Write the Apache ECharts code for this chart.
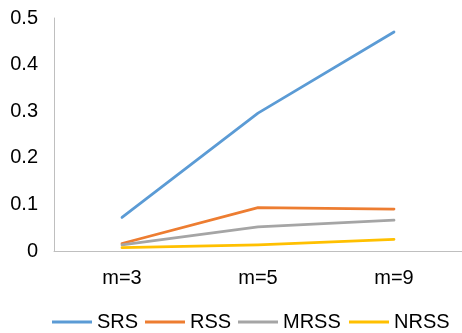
<!DOCTYPE html>
<html>
<head>
<meta charset="utf-8">
<script src="https://cdn.jsdelivr.net/npm/echarts@6/dist/echarts.min.js"></script>
<style>
html, body { margin: 0; padding: 0; background: #fff; }
#chart { width: 462px; height: 333px; }
</style>
</head>
<body>
<div id="chart"></div>
<script>
// Sample sizes compared
const categories = ['m=3', 'm=5', 'm=9'];
// Values per sampling scheme
const srs  = [0.072, 0.296, 0.470];
const rss  = [0.016, 0.093, 0.090];
const mrss = [0.013, 0.052, 0.066];
const nrss = [0.007, 0.013, 0.025];
// Y-axis range and tick step
const yMin = 0, yMax = 0.5, yStep = 0.1;

const FONT = '"Liberation Sans Narrow", "Liberation Sans", Arial, sans-serif';
const colors = ['#5B9BD5', '#ED7D31', '#A5A5A5', '#FFC000'];
const names = ['SRS', 'RSS', 'MRSS', 'NRSS'];
const seriesData = [srs, rss, mrss, nrss];
const legendLeft = [52, 145, 238, 349];

const chart = echarts.init(document.getElementById('chart'), null, { renderer: 'canvas' });
chart.setOption({
  animation: false,
  color: colors,
  grid: { left: 54, right: 0, top: 18, bottom: 82, containLabel: false },
  legend: names.map((n, i) => ({
    data: [n],
    left: legendLeft[i],
    top: 312,
    icon: 'rect',
    itemWidth: 40,
    itemHeight: 3,
    itemGap: 4,
    padding: 0,
    textStyle: { fontFamily: FONT, fontSize: 20, color: '#000', padding: [0, 0, 0, 0] }
  })),
  xAxis: {
    type: 'category',
    data: categories,
    boundaryGap: true,
    axisLine: { lineStyle: { color: '#BFBFBF', width: 1 } },
    axisTick: { show: false },
    axisLabel: { fontFamily: FONT, fontSize: 20, color: '#000', margin: 17 }
  },
  yAxis: {
    type: 'value',
    min: yMin, max: yMax, interval: yStep,
    splitLine: { show: false },
    axisLine: { show: true, lineStyle: { color: '#BFBFBF', width: 1 } },
    axisTick: { show: false },
    axisLabel: { fontFamily: FONT, fontSize: 20, color: '#000', margin: 16,
      formatter: v => (v === 0 ? '0' : String(+v.toFixed(1))) }
  },
  series: names.map((n, i) => ({
    name: n,
    type: 'line',
    data: seriesData[i],
    symbol: 'none',
    lineStyle: { width: 2.75, color: colors[i], cap: 'round', join: 'round' },
    itemStyle: { color: colors[i] }
  }))
});
</script>
</body>
</html>
